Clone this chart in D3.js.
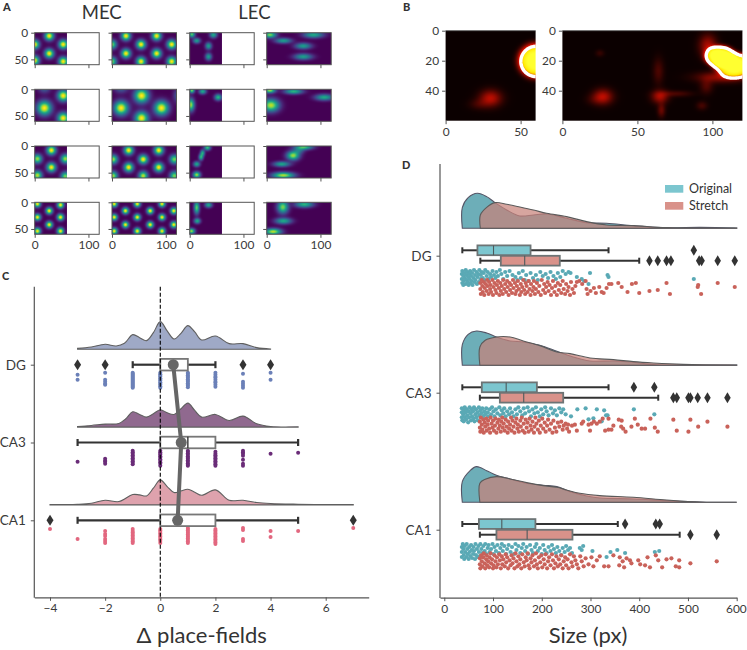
<!DOCTYPE html>
<html><head><meta charset="utf-8">
<script src="https://cdnjs.cloudflare.com/ajax/libs/d3/7.8.5/d3.min.js"></script>
<style>
html,body{margin:0;padding:0;background:#fff}
svg{display:block}
text{font-family:Lato,"Open Sans",sans-serif;fill:#333}
.tick text{font-size:11.9px;font-weight:400;fill:#3a3a3a}
.cat .tick text{font-size:13.5px}
</style></head><body><svg id="c" width="747" height="650"></svg>
<script>
// ---------- Panel A: rate-map peaks, [x, y, amplitude, sigmaX, sigmaY]
const mapTitles = ["MEC","LEC"];
const mapXTicks = [0,100], mapYTicks = [0,50];
const mecRow1a=[[27,6,1,4.5,4.5],[53,22,1,4.5,4.5],[27,39,1,4.5,4.5],[0,22,1,4.5,4.5],[53,54,1,4.5,4.5],[0,52,1,4.5,4.5]];
const mecRow1b=[[26,6,1,4.5,4.5],[54,22,1,4.5,4.5],[26,39,1,4.5,4.5],[83,6,1,4.5,4.5],[111,22,1,4.5,4.5],[83,39,1,4.5,4.5],[54,54,1,4.5,4.5],[111,54,1,4.5,4.5],[0,22,.8,4.5,4.5],[0,54,.8,4.5,4.5]];
const lecRow1a=[[4,3,.75,3.5,3.5],[13,15,.55,4,3],[35,25,.55,3.5,4],[44,4,.6,4,3.5],[35,45,.55,3.5,4]];
const lecRow1b=[[6,4,.8,7,3.5],[31,15,.55,9,3],[68,25,.55,9,3.5],[87,4,.6,11,3.5],[68,45,.55,10,3.5]];
const mecRow2a=[[18,35,1,7,7],[53,12,1,5.5,5.5],[53,54,1,5.5,5.5],[18,-2,.3,6,5]];
const mecRow2b=[[55,12,1,7,7],[17,35,1,7,7],[92,35,1,7,7],[55,54,1,6.5,6.5],[17,-2,.3,7,5],[121,12,.25,4,7]];
const lecRow2a=[[4,2,.8,3,3],[24,4,.6,4,3],[53,15,.65,4,3.5],[2,29,.85,4,7]];
const lecRow2b=[[6,2,.85,6,3],[50,4,.65,10,3],[107,15,.6,10,3.5],[8,30,.9,9,7]];
const mecRow3a=[[31,8,1,4.5,4.5],[5,24,.85,4.5,4.5],[57,24,.85,4.5,4.5],[31,40,1,4.5,4.5],[5,55,.9,4.5,4.5],[57,57,.8,4.5,4.5]];
const mecRow3b=[[31,8,1,4.5,4.5],[2,25,.85,4.5,4.5],[58,25,1,4.5,4.5],[87,8,1,4.5,4.5],[116,25,.8,4.5,4.5],[31,40,1,4.5,4.5],[87,40,1,4.5,4.5],[2,56,.85,4.5,4.5],[58,56,.9,4.5,4.5],[116,56,.8,4.5,4.5]];
const lecRow3a=[[33,3,.7,3.5,3],[24,13,.58,2.5,3.5],[21,21,.62,2.5,3.5],[13,34,.6,3.5,3],[13,54,.85,4,3.5]];
const lecRow3b=[[69,2,.72,10,3],[49,18,.85,7,5],[60,9,.3,6,3.5],[28,34,.58,9,3],[31,55,.88,12,3.5]];
const mecRow4a=[[5,3,1,3.3,3.3],[27,16,1,3.3,3.3],[48,5,1,3.3,3.3],[5,28,1,3.3,3.3],[48,28,1,3.3,3.3],[27,42,1,3.3,3.3],[5,54,1,3.3,3.3],[48,54,1,3.3,3.3]];
const mecRow4b=[[4,3,1,3.2,3.2],[25,16,1,3.2,3.2],[47,3,1,3.2,3.2],[71,16,1,3.2,3.2],[93,3,1,3.2,3.2],[115,16,1,3.2,3.2],[4,28,1,3.2,3.2],[47,28,1,3.2,3.2],[93,28,1,3.2,3.2],[25,42,1,3.2,3.2],[71,42,1,3.2,3.2],[115,42,1,3.2,3.2],[4,54,1,3.2,3.2],[47,54,1,3.2,3.2],[93,54,1,3.2,3.2]];
const lecRow4a=[[13,10,.75,3,7],[14,35,.6,3.5,3],[3,54,.85,4,3],[35,5,.6,4,3]];
const lecRow4b=[[30,9,.8,6,7],[31,35,.6,9,3.5],[12,55,.9,9,3.5],[70,4,.65,10,3.5]];
const mapRows=[[mecRow1a,mecRow1b,lecRow1a,lecRow1b],[mecRow2a,mecRow2b,lecRow2a,lecRow2b],[mecRow3a,mecRow3b,lecRow3a,lecRow3b],[mecRow4a,mecRow4b,lecRow4a,lecRow4b]];
const mapWiden=[1.28,1.28,1.15,1.15];

// ---------- Panel B: [x, y, amplitude, sigmaX, sigmaY, sharpness]
const hotA=[[30,45,.3,5,3.8,2],[22,49,.08,4.5,2.5,2],[60,20,1.05,9.2,9,4]];
const hotB=[[27,44,.3,4.5,3.5,2],[21,46,.05,4,2.5,2],[65,44,.27,3.8,3,2],[66,53,.16,1.8,3.2,2],[64,27,.11,2.5,6,2],[25,15,.07,2,1.6,2],[93,50,.1,2.5,2,2],[80,42,.04,6,1.5,2],[73,42,.08,7,1.4,2],[97,10,.27,4,5,2],[106,31,.24,11,2.5,2],[96,37,.12,3,3.5,2],[105,17,1.05,8,5.6,4],[115,23,1.05,10.5,6.4,4]];
const hotXTicksA=[0,50], hotXTicksB=[0,50,100], hotYTicks=[0,20,40];
const hotContourLevel=[.47];

// ---------- Panel C
const deltaRegions=["DG","CA3","CA1"];
const deltaTicks=[-4,-2,0,2,4,6];
const deltaColors=["#6b80b8","#6a2c78","#e2677f"];
const deltaFills=["#9fa9c6","#90698f","#dea2ad"];
const kdeDeltaX=[[-3,-2.5,-2,-1.6,-1.3,-1,-.75,-.5,-.25,0,.25,.5,.75,1,1.25,1.5,2,2.5,3,3.5,4],
 [-3,-2.5,-2,-1.5,-1.25,-1,-.75,-.5,-.25,0,.25,.5,.75,1,1.25,1.5,2,2.5,3,3.5,4,5],
 [-4,-3,-2.5,-2,-1.5,-1,-.75,-.5,-.25,0,.25,.5,.75,1,1.25,1.5,2,2.5,3,3.5,4,5,6,7]];
const kdeDeltaD=[[3,7,15,10,18,44,35,26,50,83,55,31,48,71,52,28,40,17,17,5,1],
 [2,5,9,11,25,46,38,30,40,52,43,38,55,72,50,30,38,20,33,10,2,1],
 [1,2,5,14,10,31,30,27,50,75,55,37,42,47,38,29,45,14,14,7,4,2,1,1]];
const deltaBoxes=[[0,0,1,-1,2],[0,1,2,-3,5],[0,0,2,-3,5]]; // q1, median, q3, low, high
const deltaOutliers=[[-3,-2,3,4],[],[-4,7]];
const deltaMeans=[.47,.76,.63];
const deltaDotsDG=[[-3,[2,7]],[-2,[0,7,9,11,12]],[-1,[0,1,2,3,4,5,6,7,8,9,10,11,12,13,14,15]],[0,[0,1.5,3,4,5.5,7,8,9.5,11,12,13.5,15]],[1,[0,1,2.5,4,5,6.5,8,9,10.5,12,13,14.5]],[2,[0,2,4,5,7,9,10,12,14]],[3,[1,9,11,13,15]],[4,[0,7]]];
const deltaDotsCA3=[[-3,[11]],[-2,[8,10,11,13]],[-1,[0,1.5,3,4.5,6,7.5,9,10.5,12,13.5]],[0,[0,1.5,3,4,5.5,7,8.5,10,11.5,13,15]],[1,[0,1,2.5,4,5.5,7,8,9.5,11,12.5,14,15]],[2,[1,3,4.5,6,7.5,9,10.5,12,13.5,15]],[3,[0,1.5,3,5,9,13,15]],[4,[3]],[5,[2]]];
const deltaDotsCA1=[[-4,[1]],[-3,[11]],[-2,[3,6,8,11,13,15]],[-1,[1,3,4.5,6,7.5,9,10.5,12,13.5,15]],[0,[1,2.5,4,5.5,7,8.5,10,11.5,13,15]],[1,[0,1,2.5,4,5,6.5,8,9,10.5,12,13.5,15]],[2,[1,2.5,4,5.5,7,8.5,10,11.5,13,14.5,16]],[3,[0,2,11,13]],[4,[3,9]],[5,[3]],[7,[0]]];
const deltaDots=[deltaDotsDG,deltaDotsCA3,deltaDotsCA1];

// ---------- Panel D
const sizeRegions=["DG","CA3","CA1"];
const sizeTicks=[0,100,200,300,400,500,600];
const legendLabels=["Original","Stretch"];
const kdeSizeOrigX=[[37,37,49,68,87,104,128,155,183,210,251,292,333,388,456,525,600],
 [37,37,49,66,87,107,135,162,196,231,258,299,347,388,429,456,600],
 [37,37,53,66,87,107,135,169,203,231,258,292,319,388,456,525,600]];
const kdeSizeOrigD=[[0,62,92,105,95,77,55,37,40,43,30,17,15,8,2,3,1],
 [0,62,93,103,97,85,73,70,60,42,28,13,13,9,2,1,1],
 [0,62,95,107,95,81,70,57,51,47,32,19,13,10,5,1,0]];
const kdeSizeStrX=[[74,74,87,104,128,155,183,210,251,292,333,388,456,600],
 [73,73,84,107,135,162,196,231,258,299,347,388,429,490,600],
 [73,73,84,107,135,169,203,231,251,278,319,388,456,525,600]];
const kdeSizeStrD=[[0,40,63,77,72,64,55,45,35,20,10,8,2,1],
 [0,55,75,85,85,73,59,40,35,22,17,11,7,3,1],
 [0,57,69,77,70,59,50,45,37,27,20,15,7,1,0]];
const sizeBoxOrig=[[68,101,177,37,337],[77,127,190,37,337],[71,118,187,37,356]];
const sizeBoxStr=[[116,165,237,74,400],[114,163,244,73,439],[107,170,263,73,483]];
const outliersOrig=[[512],[389,431],[371,434,442]];
const outliersStr=[[421,438,456,465,523,528,561,596],[470,477,501,505,520,540,581],[505,559]];
const dotsOrigDG=[[36,4],[36,9],[37,13],[37,1],[39,6],[39,15],[40,11],[41,3],[42,8],[44,14],[44,0],[45,5],[46,10],[47,2],[48,12],[49,7],[50,15],[51,4],[52,9],[53,1],[54,13],[55,6],[56,11],[57,3],[58,15],[60,8],[61,0],[62,12],[63,5],[64,10],[66,2],[67,14],[68,7],[70,4],[71,12],[72,0],[74,9],[75,5],[77,2],[79,8],[81,3],[83,10],[84,0],[87,6],[89,2],[91,9],[94,4],[96,7],[99,1],[102,5],[105,8],[107,2],[110,6],[114,0],[117,4],[121,9],[125,2],[129,6],[134,1],[140,5],[146,7],[150,10],[153,3],[157,8],[161,1],[165,10],[168,5],[173,11],[177,3],[182,8],[188,5],[192,10],[197,2],[202,6],[208,4],[213,8],[218,2],[224,6],[229,9],[233,3],[238,7],[243,1],[249,4],[255,2],[259,3],[272,7],[282,9],[287,11],[296,14],[299,3],[335,5],[337,7],[512,9]];
const dotsStrDG=[[74,3],[74,9],[75,14],[77,0],[78,6],[79,12],[81,2],[82,15],[83,8],[85,4],[87,11],[88,0],[89,6],[91,14],[92,2],[94,9],[95,5],[96,12],[99,0],[100,15],[101,7],[103,3],[105,10],[107,13],[108,5],[110,1],[112,8],[113,15],[115,3],[116,11],[118,6],[120,14],[121,0],[123,9],[125,4],[127,12],[129,1],[130,7],[132,15],[134,3],[135,10],[137,5],[139,13],[141,0],[142,8],[145,3],[146,14],[148,11],[149,6],[151,1],[153,9],[155,15],[157,4],[158,12],[160,7],[162,0],[164,10],[166,14],[167,3],[169,6],[171,12],[173,1],[175,9],[177,15],[178,4],[181,11],[183,7],[184,1],[186,14],[188,9],[190,3],[193,12],[195,6],[198,15],[200,0],[203,10],[205,4],[207,13],[209,7],[212,2],[214,11],[216,5],[219,15],[221,8],[223,1],[226,12],[228,6],[231,15],[233,3],[235,10],[238,5],[240,13],[243,1],[245,9],[248,14],[250,4],[253,11],[255,7],[258,15],[260,2],[263,9],[266,13],[269,6],[272,2],[277,1],[283,4],[290,1],[292,9],[294,14],[300,11],[307,8],[311,13],[318,7],[323,12],[327,13],[333,8],[338,4],[343,4],[357,3],[364,7],[376,12],[385,4],[393,3],[400,13],[421,11],[438,10],[456,3],[463,14],[521,5],[520,7],[527,14],[561,3],[596,7]];
const dotsOrigCA3=[[36,5],[36,10],[36,1],[37,13],[39,7],[40,3],[40,14],[42,0],[42,10],[44,5],[45,12],[46,2],[47,8],[49,15],[50,4],[51,10],[52,0],[54,6],[55,13],[56,2],[57,9],[59,4],[60,11],[61,0],[62,14],[64,7],[65,2],[66,10],[68,5],[69,13],[71,0],[72,8],[74,3],[76,6],[78,1],[80,9],[82,4],[84,7],[86,1],[89,5],[90,9],[93,2],[96,7],[98,0],[101,4],[103,9],[106,2],[109,6],[113,0],[115,8],[118,3],[121,6],[123,1],[126,9],[129,4],[133,7],[135,1],[139,5],[142,9],[146,2],[149,7],[152,0],[156,4],[160,8],[163,1],[166,6],[171,0],[174,4],[178,9],[181,2],[185,6],[188,0],[192,5],[196,9],[199,2],[203,7],[207,0],[210,4],[214,8],[219,1],[223,6],[227,3],[231,8],[236,1],[240,5],[244,2],[249,7],[260,9],[273,2],[290,1],[296,12],[306,11],[313,2],[323,14],[328,3],[332,8],[335,8],[389,2],[431,7]];
const dotsStrCA3=[[73,4],[73,10],[74,14],[75,0],[77,7],[78,12],[80,2],[81,15],[83,5],[84,9],[86,1],[87,13],[89,7],[90,3],[92,11],[94,15],[95,0],[97,6],[99,10],[100,3],[102,13],[104,8],[105,1],[107,15],[109,5],[111,11],[112,2],[114,8],[116,14],[117,4],[119,0],[120,10],[122,6],[124,13],[126,2],[128,9],[130,15],[131,4],[133,11],[135,7],[137,0],[138,13],[140,3],[142,9],[144,15],[146,5],[148,1],[150,11],[151,7],[153,14],[156,3],[157,9],[159,0],[161,13],[163,6],[165,15],[167,2],[169,10],[171,5],[173,14],[175,1],[177,8],[179,12],[181,4],[184,15],[185,9],[187,0],[189,6],[192,12],[194,3],[196,15],[198,8],[201,1],[203,11],[206,5],[208,14],[211,8],[213,2],[216,12],[219,6],[222,15],[224,3],[227,10],[230,14],[233,5],[236,9],[240,4],[243,12],[245,8],[249,6],[252,11],[254,7],[256,14],[262,8],[268,7],[272,13],[282,6],[285,4],[296,7],[299,13],[302,6],[307,4],[313,6],[319,4],[325,1],[330,13],[337,1],[337,12],[343,12],[347,8],[358,2],[364,3],[363,9],[367,11],[372,14],[384,9],[391,1],[397,7],[405,11],[412,11],[423,1],[432,10],[438,14],[470,2],[477,13],[501,14],[505,2],[521,9],[540,4],[581,9]];
const dotsOrigCA1=[[36,3],[36,8],[36,13],[38,0],[39,5],[40,11],[41,15],[42,2],[43,8],[45,13],[46,0],[47,5],[48,10],[50,15],[51,3],[52,8],[53,12],[55,1],[56,6],[57,14],[59,10],[60,3],[61,7],[63,15],[64,0],[65,11],[67,5],[68,13],[70,2],[71,8],[73,12],[74,0],[76,5],[78,9],[80,2],[83,7],[84,0],[86,10],[89,4],[91,1],[93,8],[96,5],[99,0],[101,10],[103,3],[106,7],[109,1],[112,9],[115,4],[118,0],[120,7],[123,2],[127,10],[129,5],[132,1],[136,8],[139,3],[143,10],[146,0],[148,6],[152,2],[156,9],[159,4],[162,0],[166,7],[169,3],[172,10],[176,1],[179,6],[182,9],[186,3],[189,0],[192,7],[196,4],[200,10],[203,1],[206,6],[210,9],[214,3],[218,7],[221,1],[225,5],[229,9],[232,3],[236,7],[240,11],[243,4],[247,8],[250,2],[254,6],[258,4],[262,9],[278,4],[282,6],[285,2],[304,7],[333,13],[341,8],[355,6],[371,9],[432,8],[441,7]];
const dotsStrCA1=[[73,5],[73,11],[74,15],[76,2],[77,8],[78,13],[80,4],[81,0],[83,10],[84,15],[86,6],[87,2],[88,12],[90,8],[92,14],[93,4],[95,0],[96,10],[98,6],[100,15],[101,12],[103,2],[105,8],[107,14],[108,4],[110,11],[113,1],[114,7],[116,15],[118,3],[119,11],[121,6],[124,13],[126,1],[127,9],[129,4],[131,15],[134,7],[136,12],[138,2],[140,10],[142,5],[144,15],[146,0],[148,8],[150,13],[152,3],[154,11],[156,6],[158,15],[160,1],[163,9],[165,13],[167,4],[169,7],[171,0],[173,12],[175,15],[177,5],[179,9],[181,2],[184,13],[186,7],[188,0],[190,11],[192,15],[194,4],[197,9],[199,2],[201,14],[204,6],[206,11],[208,1],[211,15],[213,8],[215,4],[218,12],[221,1],[223,7],[225,15],[228,10],[230,3],[233,13],[235,6],[238,11],[240,2],[243,15],[245,8],[248,4],[250,12],[253,6],[255,15],[258,1],[261,9],[263,13],[266,3],[269,7],[272,11],[275,15],[279,3],[282,8],[286,13],[290,5],[296,11],[302,4],[306,13],[313,7],[319,3],[328,13],[337,13],[347,2],[360,4],[359,12],[366,8],[369,14],[374,5],[381,7],[384,10],[398,7],[402,11],[412,12],[417,4],[422,14],[434,2],[439,7],[447,14],[456,6],[466,5],[475,13],[482,7],[482,14],[505,10],[559,8]];
const sizeDots=[[dotsOrigDG,dotsStrDG],[dotsOrigCA3,dotsStrCA3],[dotsOrigCA1,dotsStrCA1]];

// ---------- drawing
const svg=d3.select("#c");
const ink="#555", dark="#333";
let clipId=0;
function fieldValue(f,x,y,w=1){
  const p=(f[5]||2);
  const dx=(x-f[0])/(f[3]*w), dy=(y-f[1])/(f[4]*w);
  return f[2]*Math.exp(-.5*Math.pow(dx*dx+dy*dy,p/2));
}
function heatImage(g,fields,xs,ys,w,h,color,combine,widen=1){
  const cv=document.createElement("canvas"); cv.width=w*2; cv.height=h*2;
  const ctx=cv.getContext("2d"); const im=ctx.createImageData(cv.width,cv.height);
  for(let j=0;j<cv.height;j++)for(let i=0;i<cv.width;i++){
    const v=combine(fields.map(f=>fieldValue(f,(i+.5)/2,(j+.5)/2,widen)));
    const c=d3.rgb(color(v)); const k=(j*cv.width+i)*4;
    im.data[k]=c.r;im.data[k+1]=c.g;im.data[k+2]=c.b;im.data[k+3]=255;
  }
  ctx.putImageData(im,0,0);
  g.append("image").attr("x",xs(0)).attr("y",ys(0)).attr("width",xs(w)-xs(0)).attr("height",ys(h)-ys(0))
   .attr("preserveAspectRatio","none").attr("href",cv.toDataURL());
}
function styleAxis(a){a.selectAll("path.domain").attr("stroke",ink);a.selectAll(".tick line").attr("stroke",ink);}

// Panel A
const viridis=d3.scaleSequential(d3.interpolateViridis).domain([0,1]);
const colX=[34.7,112,189.7,266.7], rowY=[32.7,89.3,146,202.3];
mapRows.forEach((row,r)=>row.forEach((fields,c)=>{
  const x=d3.scaleLinear([0,120],[colX[c],colX[c]+64.5]);
  const y=d3.scaleLinear([0,60],[rowY[r],rowY[r]+32]);
  const g=svg.append("g");
  heatImage(g,fields,x,y,(c%2==0)?60:120,60,viridis,v=>Math.min(1,d3.sum(v)),mapWiden[c]);
  g.append("rect").attr("x",x(0)).attr("y",y(0)).attr("width",x(120)-x(0)).attr("height",y(60)-y(0)).attr("fill","none").attr("stroke",ink).attr("stroke-width",1);
  const ax=g.append("g").attr("transform",`translate(0,${y(60)})`).call(d3.axisBottom(x).tickValues(mapXTicks).tickSize(3.5).tickSizeOuter(0).tickFormat(r==3?d3.format("d"):""));
  const ay=g.append("g").attr("transform",`translate(${x(0)},0)`).call(d3.axisLeft(y).tickValues(mapYTicks).tickSize(3.5).tickSizeOuter(0).tickFormat(c==0?d3.format("d"):""));
  styleAxis(ax);styleAxis(ay);
  ax.select("path.domain").remove();ay.select("path.domain").remove();
}));
svg.append("text").attr("x",101.7).attr("y",19.3).attr("text-anchor","middle").attr("font-size",18.5).attr("font-weight",400).text(mapTitles[0]);
svg.append("text").attr("x",254.5).attr("y",19.3).attr("text-anchor","middle").attr("font-size",18.5).attr("font-weight",400).text(mapTitles[1]);

// Panel B
const hot=d3.scaleLinear().domain([0,.37,.75,1]).range(["#0b0000","#e01000","#ffe800","#ffff30"]).clamp(true);
function hotPanel(fields,x0,w,units,xticks){
  const x=d3.scaleLinear([0,units],[x0,x0+w]), y=d3.scaleLinear([0,60],[30.7,120.7]);
  const g=svg.append("g"); const id="clip"+(clipId++);
  svg.append("clipPath").attr("id",id).append("rect").attr("x",x(0)).attr("y",y(0)).attr("width",w).attr("height",90);
  const im=g.append("g");
  heatImage(im,fields,x,y,units,60,hot,v=>d3.sum(v));
  const pad=12, nx=units+pad, ny=60+pad, vals=new Array(nx*ny);
  for(let j=0;j<ny;j++)for(let i=0;i<nx;i++)vals[j*nx+i]=d3.sum(fields,f=>fieldValue(f,i,j));
  const cs=d3.contours().size([nx,ny]).thresholds(hotContourLevel)(vals);
  const path=d3.geoPath(d3.geoTransform({point(a,b){this.stream.point(x(a),y(b));}}));
  g.append("g").attr("clip-path",`url(#${id})`).selectAll("path").data(cs).join("path").attr("d",path).attr("fill","none").attr("stroke","#fff").attr("stroke-width",3.4).attr("stroke-linejoin","round");
  g.append("line").attr("x1",x(0)).attr("x2",x(units)).attr("y1",y(0)).attr("y2",y(0)).attr("stroke",ink).attr("stroke-width",.8);
  const ax=g.append("g").attr("transform",`translate(0,${y(60)})`).call(d3.axisBottom(x).tickValues(xticks).tickSize(3.5).tickSizeOuter(0));
  const ay=g.append("g").attr("transform",`translate(${x(0)},0)`).call(d3.axisLeft(y).tickValues(hotYTicks).tickSize(3.5).tickSizeOuter(0));
  styleAxis(ax);styleAxis(ay);
  ax.select("path.domain").remove();ay.select("path.domain").remove();
}
hotPanel(hotA,445.6,90,60,hotXTicksA);
hotPanel(hotB,562.4,180,120,hotXTicksB);

// shared helpers
const diamond=(g,x,y,w,h,fill)=>g.append("path").attr("d",`M${x},${y-h/2}L${x+w/2},${y}L${x},${y+h/2}L${x-w/2},${y}Z`).attr("fill",fill);
function kdePath(g,xs,ds,xScale,base,dens,fill,op,stroke){
  const area=d3.area().x(d=>xScale(d[0])).y0(base).y1(d=>base-dens(d[1])).curve(d3.curveCatmullRom.alpha(.5));
  const pts=xs.map((v,i)=>[v,ds[i]]);
  g.append("path").attr("d",area(pts)+"Z").attr("fill",fill).attr("fill-opacity",op).attr("stroke",stroke).attr("stroke-width",1.1);
}

// Panel C
const cx=d3.scaleLinear([-4.57,7.56],[34.3,368.7]);
const cy=d3.scalePoint(deltaRegions,[364.7,520.3]);
const cDens=d3.scaleLinear([0,90],[0,30]);
const gC=svg.append("g");
deltaRegions.forEach((rg,i)=>{
  const yc=cy(rg);
  kdePath(gC,kdeDeltaX[i],kdeDeltaD[i],cx,yc-15.4,cDens,deltaFills[i],1,"#5f5f5f");
  const top=yc+(i==0?8:i==1?8.2:7.7);
  deltaDots[i].forEach(([v,js])=>js.forEach(j=>gC.append("circle").attr("cx",cx(v)).attr("cy",top+j).attr("r",2).attr("fill",deltaColors[i])));
  const [q1,m,q3,lo,hi]=deltaBoxes[i];
  const wh=gC.append("g").attr("stroke",dark).attr("stroke-width",2.2);
  wh.append("line").attr("x1",cx(lo)).attr("x2",cx(q1)).attr("y1",yc).attr("y2",yc);
  wh.append("line").attr("x1",cx(q3)).attr("x2",cx(hi)).attr("y1",yc).attr("y2",yc);
  [lo,hi].forEach(v=>wh.append("line").attr("x1",cx(v)).attr("x2",cx(v)).attr("y1",yc-3.5).attr("y2",yc+3.5));
  gC.append("rect").attr("x",cx(q1)).attr("y",yc-5.8).attr("width",cx(q3)-cx(q1)).attr("height",11.6).attr("fill","#fff").attr("stroke","#777").attr("stroke-width",1.8);
  if(m!=q1)gC.append("line").attr("x1",cx(m)).attr("x2",cx(m)).attr("y1",yc-5.8).attr("y2",yc+5.8).attr("stroke",dark).attr("stroke-width",1.4);
  deltaOutliers[i].forEach(v=>diamond(gC,cx(v),yc,7,11,dark));
});
gC.append("path").datum(deltaMeans).attr("d",d3.line().x(d=>cx(d)).y((d,i)=>cy(deltaRegions[i]))).attr("fill","none").attr("stroke","#666").attr("stroke-width",4);
gC.selectAll("circle.mean").data(deltaMeans).join("circle").attr("class","mean").attr("cx",d=>cx(d)).attr("cy",(d,i)=>cy(deltaRegions[i])).attr("r",5.5).attr("fill","#666");
gC.append("line").attr("x1",cx(0)).attr("x2",cx(0)).attr("y1",286.7).attr("y2",597).attr("stroke","#000").attr("stroke-width",1.1).attr("stroke-dasharray","4,2");
const cax=gC.append("g").attr("transform","translate(0,597.3)").call(d3.axisBottom(cx).tickValues(deltaTicks).tickSize(3.5).tickSizeOuter(0));
const cay=gC.append("g").attr("class","cat").attr("transform","translate(34.3,0)").call(d3.axisLeft(cy).tickSize(3.5).tickPadding(5).tickSizeOuter(0));
styleAxis(cax);styleAxis(cay);cay.select("path.domain").remove();cax.select("path.domain").attr("stroke-width",1.2);
gC.append("line").attr("x1",34.3).attr("x2",34.3).attr("y1",286.7).attr("y2",597.8).attr("stroke",ink).attr("stroke-width",1.2);
svg.append("text").attr("x",201.7).attr("y",643).attr("text-anchor","middle").attr("font-size",22).attr("font-weight",400).text("Δ place-fields");

// Panel D
const dx=d3.scaleLinear([-8.8,600],[440,736.7]);
const dy=d3.scalePoint(sizeRegions,[255.7,529.7]);
const dDens=d3.scaleLinear([0,105],[0,35]);
const tealFill="#65aab4", redFill="#c8827a", tealBox="#7cc6cf", redBox="#d9928a", tealDot="#5aa9b5", redDot="#c9625a";
const gD=svg.append("g");
function sizeBox(g,b,yc,fill){
  const [q1,m,q3,lo,hi]=b;
  const wh=g.append("g").attr("stroke",dark).attr("stroke-width",2);
  wh.append("line").attr("x1",dx(lo)).attr("x2",dx(q1)).attr("y1",yc).attr("y2",yc);
  wh.append("line").attr("x1",dx(q3)).attr("x2",dx(hi)).attr("y1",yc).attr("y2",yc);
  [lo,hi].forEach(v=>wh.append("line").attr("x1",dx(v)).attr("x2",dx(v)).attr("y1",yc-3).attr("y2",yc+3));
  g.append("rect").attr("x",dx(q1)).attr("y",yc-4.9).attr("width",dx(q3)-dx(q1)).attr("height",9.8).attr("fill",fill).attr("stroke","#6d7475").attr("stroke-width",1.8);
  g.append("line").attr("x1",dx(m)).attr("x2",dx(m)).attr("y1",yc-4.9).attr("y2",yc+4.9).attr("stroke","#4d5a5c").attr("stroke-width",1.1);
}
sizeRegions.forEach((rg,i)=>{
  const yc=dy(rg), base=yc-27.4;
  kdePath(gD,kdeSizeOrigX[i],kdeSizeOrigD[i],dx,base,dDens,tealFill,.95,"#556");
  kdePath(gD,kdeSizeStrX[i],kdeSizeStrD[i],dx,base,dDens,redFill,.72,"#5a5a5a");
  const tt=[270,407.3,544][i], tr=[280,417.7,553.3][i];
  sizeDots[i][0].forEach(p=>gD.append("circle").attr("cx",dx(p[0])).attr("cy",tt+p[1]).attr("r",2.1).attr("fill",tealDot));
  sizeDots[i][1].forEach(p=>gD.append("circle").attr("cx",dx(p[0])).attr("cy",tr+p[1]).attr("r",2.1).attr("fill",redDot));
  const y1=[250.3,387.3,524][i], y2=[260.7,397.7,534.7][i];
  sizeBox(gD,sizeBoxOrig[i],y1,tealBox);
  sizeBox(gD,sizeBoxStr[i],y2,redBox);
  outliersOrig[i].forEach(v=>diamond(gD,dx(v),y1,6.5,11,dark));
  outliersStr[i].forEach(v=>diamond(gD,dx(v),y2,6.5,11,dark));
});
const dax=gD.append("g").attr("transform","translate(0,597.7)").call(d3.axisBottom(dx).tickValues(sizeTicks).tickSize(3.5).tickSizeOuter(0));
const day=gD.append("g").attr("class","cat").attr("transform","translate(440,0)").call(d3.axisLeft(dy).tickSize(3.5).tickPadding(5).tickSizeOuter(0));
styleAxis(dax);styleAxis(day);day.select("path.domain").remove();dax.select("path.domain").attr("stroke-width",1.2);
dax.selectAll(".tick text").filter(d=>d==600).attr("dx",-.8);
gD.append("line").attr("x1",440).attr("x2",440).attr("y1",164).attr("y2",598).attr("stroke",ink).attr("stroke-width",1.2);
svg.append("text").attr("x",588).attr("y",643).attr("text-anchor","middle").attr("font-size",22).attr("font-weight",400).text("Size (px)");
legendLabels.forEach((l,i)=>{
  const yy=[185,202][i];
  gD.append("rect").attr("x",665).attr("y",yy).attr("width",18.3).attr("height",7.7).attr("fill",i==0?tealBox:redBox);
  gD.append("text").attr("x",689).attr("y",yy+8.4).attr("font-size",12.5).attr("font-weight",400).text(l);
});

// panel letters
[["A",3,11],["B",403,11],["C",2,280],["D",402,169]].forEach(d=>svg.append("text").attr("x",d[1]).attr("y",d[2]).attr("font-size",11).attr("font-weight",900).attr("fill","#111").text(d[0]));
</script></body></html>
